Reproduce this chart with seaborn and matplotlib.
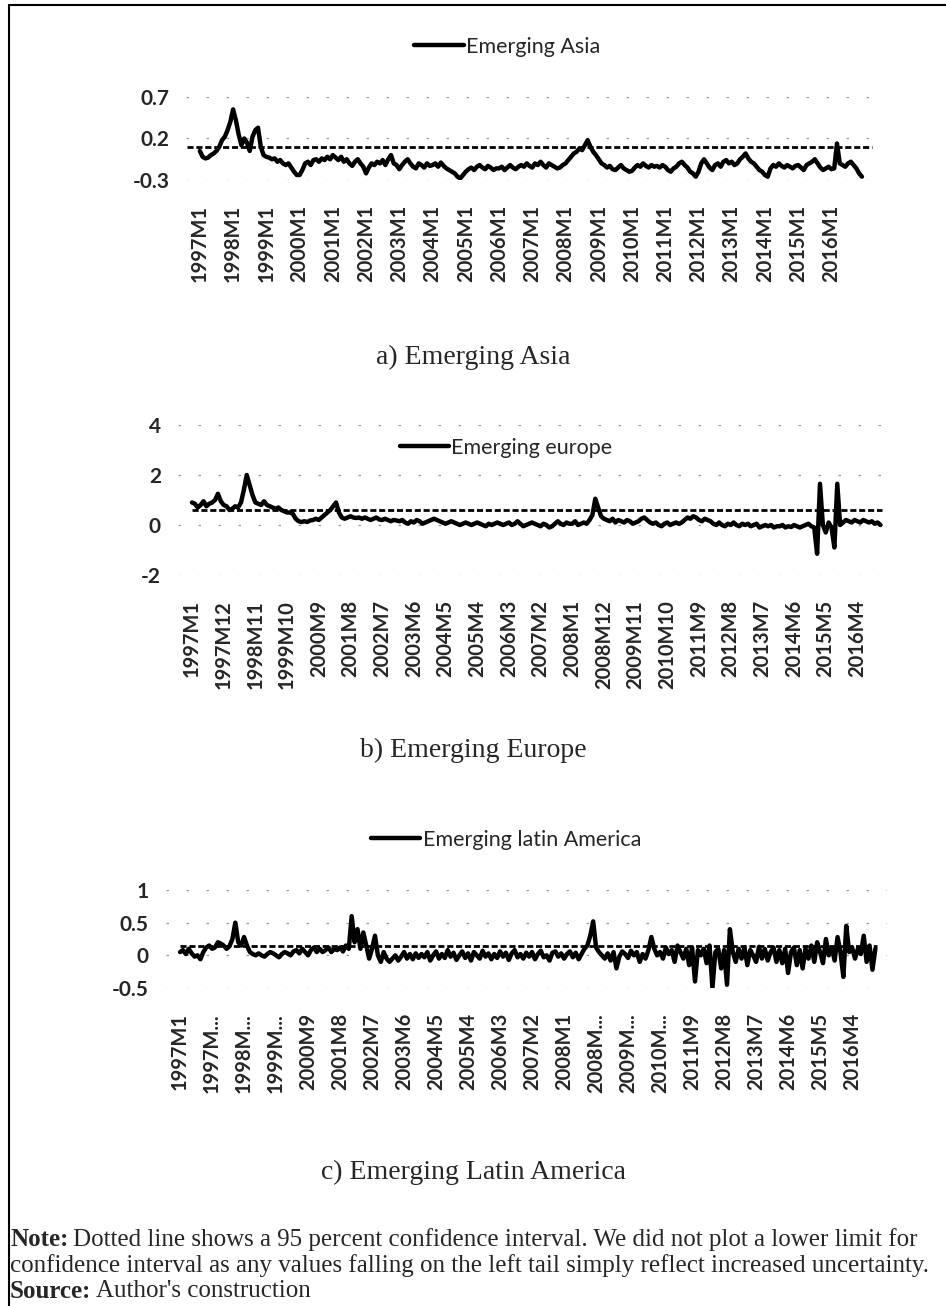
import numpy as np
import pandas as pd
import matplotlib
matplotlib.use("Agg")
import matplotlib.pyplot as plt
import seaborn as sns

# ---------------- data ----------------
years = list(range(1997, 2017))
months = [f"{y}M{m}" for y in years for m in range(1, 13)]

asia = [
    0.05, -0.02, -0.04, -0.03, 0.00, 0.02, 0.05, 0.10, 0.18, 0.22, 0.30, 0.40,
    0.55, 0.42, 0.25, 0.12, 0.20, 0.15, 0.05, 0.22, 0.30, 0.33, 0.10, 0.00,
    -0.02, -0.03, -0.05, -0.04, -0.08, -0.06, -0.10, -0.12, -0.10, -0.15, -0.20, -0.24,
    -0.24, -0.18, -0.10, -0.08, -0.12, -0.06, -0.05, -0.08, -0.04, -0.06, -0.02, -0.05,
    0.00, -0.03, -0.06, -0.02, -0.08, -0.05, -0.10, -0.13, -0.08, -0.05, -0.10, -0.14,
    -0.22, -0.15, -0.10, -0.12, -0.08, -0.10, -0.06, -0.12, -0.05, 0.00, -0.10, -0.12,
    -0.17, -0.12, -0.08, -0.05, -0.10, -0.14, -0.16, -0.10, -0.12, -0.15, -0.10, -0.13,
    -0.12, -0.10, -0.14, -0.09, -0.13, -0.16, -0.18, -0.20, -0.22, -0.26, -0.28, -0.24,
    -0.20, -0.17, -0.15, -0.18, -0.14, -0.12, -0.15, -0.17, -0.13, -0.15, -0.18, -0.16,
    -0.16, -0.14, -0.18, -0.15, -0.12, -0.15, -0.17, -0.14, -0.12, -0.14, -0.10, -0.13,
    -0.15, -0.10, -0.12, -0.08, -0.12, -0.15, -0.10, -0.12, -0.14, -0.16, -0.15, -0.12,
    -0.10, -0.06, -0.02, 0.02, 0.04, 0.08, 0.06, 0.12, 0.18, 0.10, 0.04, 0.00,
    -0.05, -0.10, -0.12, -0.15, -0.13, -0.17, -0.18, -0.15, -0.12, -0.16, -0.18, -0.20,
    -0.19, -0.15, -0.12, -0.14, -0.10, -0.13, -0.15, -0.12, -0.14, -0.13, -0.15, -0.12,
    -0.14, -0.18, -0.20, -0.16, -0.14, -0.10, -0.08, -0.12, -0.15, -0.20, -0.22, -0.26,
    -0.20, -0.10, -0.05, -0.10, -0.15, -0.18, -0.12, -0.10, -0.14, -0.08, -0.06, -0.10,
    -0.08, -0.12, -0.10, -0.05, -0.02, 0.02, -0.04, -0.08, -0.10, -0.14, -0.18, -0.20,
    -0.24, -0.26, -0.16, -0.12, -0.14, -0.10, -0.13, -0.15, -0.12, -0.14, -0.16, -0.13,
    -0.12, -0.15, -0.18, -0.12, -0.10, -0.08, -0.05, -0.10, -0.15, -0.18, -0.16, -0.14,
    -0.17, -0.16, 0.14, -0.10, -0.12, -0.14, -0.10, -0.08, -0.12, -0.16, -0.22, -0.26,
]

europe = [
    0.90, 0.85, 0.70, 0.80, 0.95, 0.75, 0.85, 0.90, 1.00, 1.25, 0.95, 0.80,
    0.75, 0.60, 0.65, 0.75, 0.70, 0.90, 1.40, 2.00, 1.60, 1.20, 0.90, 0.85,
    0.80, 0.95, 0.80, 0.75, 0.70, 0.65, 0.70, 0.60, 0.55, 0.50, 0.50, 0.45,
    0.25, 0.15, 0.12, 0.15, 0.12, 0.18, 0.20, 0.25, 0.20, 0.30, 0.40, 0.50,
    0.60, 0.75, 0.90, 0.50, 0.30, 0.25, 0.30, 0.35, 0.30, 0.28, 0.30, 0.25,
    0.30, 0.25, 0.20, 0.25, 0.30, 0.22, 0.20, 0.25, 0.20, 0.15, 0.20, 0.18,
    0.15, 0.20, 0.10, 0.05, 0.15, 0.10, 0.20, 0.15, 0.05, 0.10, 0.15, 0.20,
    0.25, 0.20, 0.15, 0.10, 0.05, 0.10, 0.15, 0.10, 0.05, 0.00, 0.05, 0.10,
    0.05, 0.00, 0.05, 0.10, 0.05, 0.00, -0.05, 0.05, 0.00, 0.05, 0.10, 0.05,
    0.00, 0.05, 0.10, 0.00, 0.05, 0.15, 0.05, -0.05, 0.00, 0.05, 0.10, 0.05,
    0.00, -0.05, 0.05, 0.00, -0.10, -0.05, 0.05, 0.15, 0.05, 0.00, 0.10, 0.05,
    0.05, 0.15, 0.00, 0.05, 0.10, 0.05, 0.20, 0.40, 1.05, 0.70, 0.35, 0.25,
    0.20, 0.15, 0.25, 0.10, 0.20, 0.15, 0.10, 0.20, 0.15, 0.05, 0.10, 0.15,
    0.25, 0.30, 0.20, 0.10, 0.05, 0.10, 0.00, -0.05, 0.05, 0.10, 0.00, 0.05,
    0.10, 0.05, 0.10, 0.20, 0.30, 0.25, 0.35, 0.30, 0.20, 0.15, 0.25, 0.20,
    0.15, 0.05, 0.00, 0.10, 0.00, -0.05, 0.05, 0.00, 0.10, 0.00, -0.05, 0.05,
    0.00, 0.05, -0.05, 0.00, 0.05, -0.10, -0.05, 0.00, -0.05, 0.00, -0.10, -0.05,
    -0.05, 0.00, -0.10, -0.05, -0.08, 0.00, -0.05, -0.10, -0.05, 0.00, 0.05, -0.05,
    -0.10, -1.15, 1.65, 0.00, -0.30, 0.10, -0.10, -0.90, 1.65, 0.00, 0.10, 0.20,
    0.15, 0.10, 0.20, 0.15, 0.10, 0.20, 0.15, 0.10, 0.15, 0.05, 0.10, 0.00,
]

latam = [
    0.05, 0.08, 0.02, 0.10, 0.03, -0.02, 0.00, -0.06, 0.05, 0.12, 0.15, 0.10,
    0.12, 0.20, 0.18, 0.15, 0.10, 0.14, 0.25, 0.50, 0.20, 0.15, 0.28, 0.15,
    0.05, 0.02, 0.00, 0.03, 0.00, -0.02, 0.02, 0.05, 0.03, 0.00, -0.03, 0.02,
    0.05, 0.03, 0.00, 0.06, 0.08, 0.03, 0.10, 0.05, 0.00, 0.08, 0.12, 0.05,
    0.10, 0.05, 0.08, 0.12, 0.05, 0.10, 0.08, 0.12, 0.06, 0.15, 0.10, 0.60,
    0.20, 0.40, 0.10, 0.35, 0.15, -0.05, 0.10, 0.30, 0.00, -0.10, 0.05, -0.05,
    -0.10, -0.05, 0.00, -0.08, -0.02, 0.05, -0.05, 0.02, -0.06, 0.03, -0.04, 0.02,
    -0.03, 0.05, -0.08, 0.00, 0.06, -0.05, 0.02, -0.04, 0.08, -0.02, 0.04, -0.07,
    0.00, 0.06, -0.04, 0.03, -0.08, 0.05, 0.00, -0.05, 0.07, -0.02, 0.03, -0.06,
    0.02, -0.04, 0.06, -0.02, 0.04, -0.07, 0.03, 0.08, -0.03, 0.02, -0.05, 0.04,
    -0.02, 0.05, -0.06, 0.02, 0.07, -0.03, 0.00, -0.08, 0.04, 0.06, -0.02, 0.03,
    -0.05, 0.02, 0.06, -0.03, 0.04, -0.06, 0.02, 0.10, 0.15, 0.30, 0.52, 0.12,
    0.05, 0.00, -0.05, 0.03, -0.08, 0.05, -0.20, -0.02, 0.06, 0.02, -0.04, 0.07,
    0.00, 0.05, -0.10, 0.02, -0.05, 0.08, 0.28, 0.10, 0.00, 0.05, -0.05, 0.12,
    0.02, 0.08, -0.10, 0.15, 0.05, -0.05, 0.10, -0.15, 0.12, -0.40, 0.08, 0.00,
    0.10, -0.12, 0.15, -0.50, 0.05, 0.10, -0.20, 0.08, -0.45, 0.40, 0.05, -0.10,
    0.10, -0.05, 0.12, -0.15, 0.08, 0.00, -0.10, 0.13, -0.05, 0.10, -0.08, 0.05,
    0.12, -0.10, 0.08, -0.12, 0.10, -0.27, 0.05, 0.12, -0.15, 0.08, -0.20, 0.10,
    -0.05, 0.15, -0.10, 0.20, 0.05, -0.12, 0.25, 0.00, 0.12, -0.08, 0.28, 0.05,
    -0.33, 0.45, 0.05, 0.12, -0.05, 0.10, 0.02, 0.30, -0.10, 0.15, -0.22, 0.10,
]

asia_ci, europe_ci, latam_ci = 0.10, 0.62, 0.14

asia_ticklabels = ["1997M1", "1998M1", "1999M1", "2000M1", "2001M1", "2002M1",
                   "2003M1", "2004M1", "2005M1", "2006M1", "2007M1", "2008M1",
                   "2009M1", "2010M1", "2011M1", "2012M1", "2013M1", "2014M1",
                   "2015M1", "2016M1"]
europe_ticklabels = ["1997M1", "1997M12", "1998M11", "1999M10", "2000M9", "2001M8",
                     "2002M7", "2003M6", "2004M5", "2005M4", "2006M3", "2007M2",
                     "2008M1", "2008M12", "2009M11", "2010M10", "2011M9", "2012M8",
                     "2013M7", "2014M6", "2015M5", "2016M4"]
latam_ticklabels = ["1997M1", "1997M...", "1998M...", "1999M...", "2000M9", "2001M8",
                    "2002M7", "2003M6", "2004M5", "2005M4", "2006M3", "2007M2",
                    "2008M1", "2008M...", "2009M...", "2010M...", "2011M9", "2012M8",
                    "2013M7", "2014M6", "2015M5", "2016M4"]

asia_yticks = [-0.3, 0.2, 0.7]
asia_yticklabels = ["-0.3", "0.2", "0.7"]
europe_yticks = [-2, 0, 2, 4]
europe_yticklabels = ["-2", "0", "2", "4"]
latam_yticks = [-0.5, 0, 0.5, 1]
latam_yticklabels = ["-0.5", "0", "0.5", "1"]

# ---------------- style ----------------
sns.set_style("white")
plt.rcParams["font.family"] = ["Lato", "DejaVu Sans"]

W, H = 946, 1306
fig = plt.figure(figsize=(W / 100, H / 100), dpi=100)


def px_rect(left, right, top, bottom):
    return [left / W, 1 - bottom / H, (right - left) / W, (bottom - top) / H]


def panel(rect, values, ci, ci_span, name, ticklabels, step, yticks,
          yticklabels, ylim, legend_xy):
    ax = fig.add_axes(px_rect(*rect))
    df = pd.DataFrame({"t": np.arange(len(values)), "v": values})
    sns.lineplot(data=df, x="t", y="v", ax=ax, color="black", lw=3.2,
                 label=name, legend=False, zorder=3)
    ci_df = pd.DataFrame({"t": list(ci_span), "v": [ci, ci]})
    sns.lineplot(data=ci_df, x="t", y="v", ax=ax, color="black", lw=2.0,
                 ls=(0, (2.2, 1.0)), legend=False, zorder=2)
    for yt in yticks:
        ax.axhline(yt, color="#9a9a9a", lw=0.9, ls=(0, (2, 14)), zorder=0)
    ax.set_xlim(-5, 243)
    ax.set_ylim(*ylim)
    ax.set_xticks(np.arange(0, len(values), step)[:len(ticklabels)])
    ax.set_xticklabels(ticklabels, rotation=90, fontsize=14.5, va="top",
                       ha="center", fontweight="bold")
    ax.set_yticks(yticks)
    ax.set_yticklabels(yticklabels, fontsize=15, fontweight="bold")
    ax.tick_params(axis="both", length=0, pad=12)
    ax.tick_params(axis="x", pad=18)
    ax.set_xlabel("")
    ax.set_ylabel("")
    for s in ax.spines.values():
        s.set_visible(False)
    ax.grid(False)
    ax.patch.set_alpha(0)
    handles, labels = ax.get_legend_handles_labels()
    ax.legend(handles[:1], [name], loc="center",
              bbox_to_anchor=(legend_xy[0] / W, 1 - legend_xy[1] / H),
              bbox_transform=fig.transFigure, frameon=False, fontsize=15.5,
              handlelength=2.3, handletextpad=0.1)
    return ax


panel((186, 873, 97, 180), asia, asia_ci, (-4.5, 242.5), "Emerging Asia",
      asia_ticklabels, 12, asia_yticks, asia_yticklabels, (-0.3, 0.7), (507, 47))
panel((177.6, 892, 425, 575), europe, europe_ci, (0, 239.5), "Emerging europe",
      europe_ticklabels, 11, europe_yticks, europe_yticklabels, (-2, 4),
      (506, 448))
panel((165.5, 887, 890, 988), latam, latam_ci, (0, 239.5),
      "Emerging latin America", latam_ticklabels, 11, latam_yticks,
      latam_yticklabels, (-0.5, 1), (506, 840))

serif = ["Liberation Serif", "DejaVu Serif"]
fig.text(473 / W, 1 - 357 / H, "a) Emerging Asia", family=serif, fontsize=20,
         ha="center", va="center")
fig.text(473 / W, 1 - 750 / H, "b) Emerging Europe", family=serif, fontsize=20,
         ha="center", va="center")
fig.text(473 / W, 1 - 1172 / H, "c) Emerging Latin America", family=serif,
         fontsize=20, ha="center", va="center")

renderer = fig.canvas.get_renderer()
note_size = 18


def mixed_line(x_px, y_px, bold, rest, size=note_size):
    t = fig.text(x_px / W, 1 - y_px / H, bold, family=serif, fontsize=size,
                 fontweight="bold", ha="left", va="center")
    bb = t.get_window_extent(renderer=renderer)
    fig.text(bb.x1 / W + 0.005, 1 - y_px / H, rest, family=serif, fontsize=size,
             ha="left", va="center")


mixed_line(10, 1240, "Note:", "Dotted line shows a 95 percent confidence interval. "
           "We did not plot a lower limit for")
fig.text(10 / W, 1 - 1266 / H, "confidence interval as any values falling on the "
         "left tail simply reflect increased uncertainty.", family=serif,
         fontsize=note_size, ha="left", va="center")
mixed_line(10, 1291, "Source:", "Author's construction")

# frame
frame = dict(color="black", lw=1.5, transform=fig.transFigure)
fig.add_artist(plt.Line2D([9 / W, 9 / W], [0, 1 - 5 / H], **frame))
fig.add_artist(plt.Line2D([9 / W, 1], [1 - 5 / H, 1 - 5 / H], **frame))

fig.savefig("out.png", dpi=100)
